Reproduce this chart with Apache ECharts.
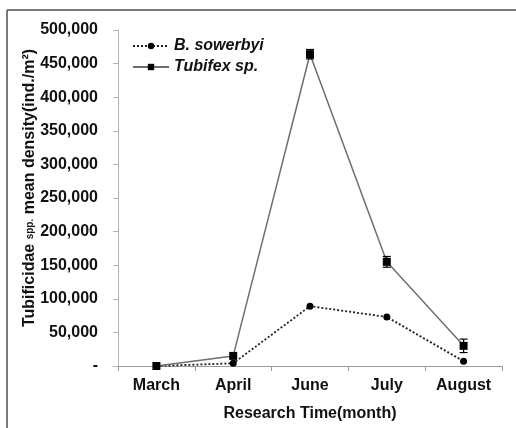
<!DOCTYPE html>
<html>
<head>
<meta charset="utf-8">
<script src="https://cdn.jsdelivr.net/npm/echarts@6/dist/echarts.min.js"></script>
<style>
html,body{margin:0;padding:0;background:#fff;}
#chart{width:516px;height:428px;}
</style>
</head>
<body>
<div id="chart"></div>
<script>
var months = ['March', 'April', 'June', 'July', 'August'];
var sowerbyi = [0, 4000, 89000, 73000, 7000];
var tubifex = [0, 15000, 464000, 155000, 30000];
var tubifexErr = [0, 0, 7000, 8000, 10000];
var yTicks = [0, 50000, 100000, 150000, 200000, 250000, 300000, 350000, 400000, 450000, 500000];

var FONT = 'Liberation Sans, Arial, sans-serif';
var chart = echarts.init(document.getElementById('chart'));

function fmt(v) {
  if (v === 0) return '-';
  return v.toString().replace(/\B(?=(\d{3})+(?!\d))/g, ',');
}

var errData = months.map(function (m, i) {
  return [i, tubifex[i] - tubifexErr[i], tubifex[i] + tubifexErr[i]];
}).filter(function (d, i) { return tubifexErr[i] > 0; });

chart.setOption({
  animation: false,
  backgroundColor: '#fff',
  textStyle: { fontFamily: FONT },
  graphic: [
    { type: 'line', shape: { x1: 7, y1: 10, x2: 516, y2: 10 }, style: { stroke: '#7a7a7a', lineWidth: 2 } },
    { type: 'line', shape: { x1: 7, y1: 10, x2: 7, y2: 428 }, style: { stroke: '#7a7a7a', lineWidth: 2 } }
  ],
  grid: { left: 118, right: 14, top: 30, bottom: 62, containLabel: false },
  legend: {
    orient: 'vertical',
    left: 127,
    top: 33,
    itemWidth: 36,
    itemHeight: 8,
    itemGap: 5,
    textStyle: { fontFamily: FONT, fontSize: 16, fontWeight: 'bold', fontStyle: 'italic', color: '#111' },
    data: ['B. sowerbyi', 'Tubifex sp.']
  },
  xAxis: {
    type: 'category',
    data: months,
    boundaryGap: true,
    axisLine: { lineStyle: { color: '#9a9a9a', width: 1 } },
    axisTick: { show: true, length: 5, lineStyle: { color: '#9a9a9a' } },
    axisLabel: { color: '#111', fontFamily: FONT, fontSize: 16, fontWeight: 'bold', margin: 12 },
    name: 'Research Time(month)',
    nameLocation: 'middle',
    nameGap: 40,
    nameMoveOverlap: false,
    nameTextStyle: { color: '#111', fontFamily: FONT, fontSize: 16, fontWeight: 'bold' }
  },
  yAxis: {
    type: 'value',
    min: yTicks[0],
    max: yTicks[yTicks.length - 1],
    interval: yTicks[1] - yTicks[0],
    splitLine: { show: false },
    axisLine: { show: true, lineStyle: { color: '#b5b5b5', width: 1 } },
    axisTick: { show: true, length: 5, lineStyle: { color: '#b5b5b5' } },
    axisLabel: { color: '#111', fontFamily: FONT, fontSize: 16, fontWeight: 'bold', margin: 20, formatter: fmt },
    name: '{a|Tubificidae }{s|spp.}{a| mean density(ind./m²)}',
    nameLocation: 'middle',
    nameGap: 80,
    nameRotate: 90,
    nameMoveOverlap: false,
    nameTextStyle: {
      color: '#111',
      padding: [0, 0, 0, 20],
      rich: {
        a: { fontFamily: FONT, fontSize: 16, fontWeight: 'bold', color: '#111' },
        s: { fontFamily: FONT, fontSize: 10, fontWeight: 'bold', color: '#111' }
      }
    }
  },
  series: [
    {
      name: 'B. sowerbyi',
      type: 'line',
      data: sowerbyi,
      symbol: 'circle',
      symbolSize: 7,
      itemStyle: { color: '#000' },
      lineStyle: { color: '#222', width: 1.8, type: [2, 2] },
      z: 3
    },
    {
      name: 'Tubifex sp.',
      type: 'line',
      data: tubifex,
      symbol: 'rect',
      symbolSize: 8,
      itemStyle: { color: '#000' },
      lineStyle: { color: '#6e6e6e', width: 1.5, type: 'solid' },
      z: 4
    },
    {
      type: 'custom',
      name: 'err',
      data: errData,
      z: 5,
      renderItem: function (params, api) {
        var x = api.value(0);
        var lo = api.coord([x, api.value(1)]);
        var hi = api.coord([x, api.value(2)]);
        var w = 4;
        var st = { stroke: '#000', lineWidth: 1.2 };
        return {
          type: 'group',
          children: [
            { type: 'line', shape: { x1: lo[0], y1: lo[1], x2: hi[0], y2: hi[1] }, style: st },
            { type: 'line', shape: { x1: lo[0] - w, y1: lo[1], x2: lo[0] + w, y2: lo[1] }, style: st },
            { type: 'line', shape: { x1: hi[0] - w, y1: hi[1], x2: hi[0] + w, y2: hi[1] }, style: st }
          ]
        };
      }
    }
  ]
});
</script>
</body>
</html>
